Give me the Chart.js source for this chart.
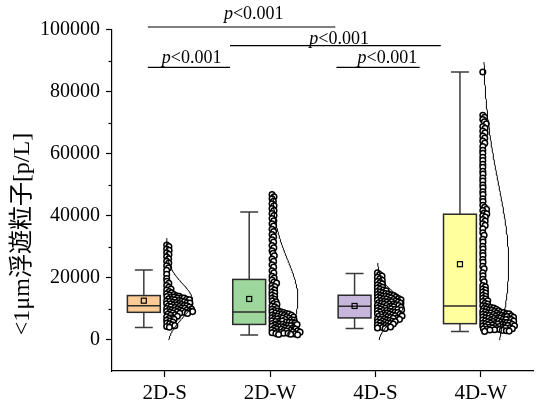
<!DOCTYPE html>
<html><head><meta charset="utf-8">
<script src="https://cdn.jsdelivr.net/npm/chart.js@4"></script>
<style>html,body{margin:0;padding:0;background:#fff}canvas{display:block}</style>
</head><body>
<canvas id="c" width="539" height="405" style="width:539px;height:405px"></canvas>
<script>
// ---------------- data ----------------
const categories = ['2D-S', '2D-W', '4D-S', '4D-W'];

const pts2DS = [30600, 30050, 29300, 28850, 28100, 27550, 26800, 26150, 25350, 24750, 23900, 23250, 22450, 21150, 19800, 18900, 18250, 17550, 16950, 16400, 16050, 15600, 15150, 14850, 14650, 14500, 14250, 14100, 13950, 13850, 13700, 13550, 13480, 13400, 13250, 13100, 13000, 12920, 12850, 12700, 12550, 12480, 12400, 12300, 12150, 12080, 12000, 11850, 11750, 11640, 11550, 11400, 11300, 11150, 11080, 11000, 10900, 10750, 10650, 10580, 10450, 10300, 10200, 10130, 10050, 9950, 9800, 9700, 9620, 9550, 9450, 9350, 9250, 9150, 9130, 9050, 8950, 8850, 8700, 8620, 8550, 8350, 8100, 7950, 7650, 7450, 7150, 6900, 6650, 6350, 6100, 5750, 5450, 5200, 4850, 4600, 4350, 4100];

const pts2DW = [46800, 46150, 45450, 44650, 43850, 43200, 42300, 41650, 40700, 40050, 39100, 38400, 37450, 36700, 35650, 34900, 33950, 33200, 32250, 31500, 30400, 29700, 28750, 27900, 27100, 26050, 25300, 24200, 23450, 22300, 21600, 20500, 19900, 19300, 18650, 18300, 17500, 17200, 16550, 16100, 15400, 15100, 14450, 14100, 13400, 13100, 12500, 12300, 11700, 11450, 10900, 10700, 10100, 9900, 9500, 9300, 9100, 8950, 8800, 8650, 8500, 8420, 8350, 8150, 8050, 7960, 7850, 7700, 7600, 7490, 7400, 7250, 7150, 7020, 6950, 6800, 6700, 6570, 6500, 6400, 6200, 6110, 6050, 5950, 5750, 5660, 5600, 5500, 5300, 5200, 5140, 5050, 4950, 4800, 4720, 4650, 4550, 4400, 4310, 4250, 4100, 3950, 3870, 3800, 3700, 3550, 3430, 3400, 3300, 3150, 3050, 2980, 2900, 2800, 2650, 2550, 2510, 2400, 2300, 2150, 2120, 2050, 1950, 1850, 1750, 1650];

const pts4DS = [21600, 21050, 20550, 20150, 19700, 19250, 18850, 18450, 18050, 17650, 17300, 16950, 16700, 16350, 16100, 15850, 15600, 15400, 15150, 14950, 14800, 14650, 14550, 14400, 14300, 14150, 14050, 13900, 13820, 13750, 13600, 13500, 13350, 13270, 13200, 13050, 12950, 12800, 12710, 12650, 12550, 12400, 12250, 12180, 12100, 12000, 11850, 11700, 11640, 11600, 11450, 11300, 11200, 11120, 11050, 10950, 10850, 10700, 10600, 10530, 10450, 10300, 10200, 10050, 9970, 9900, 9800, 9650, 9500, 9440, 9400, 9250, 9100, 8950, 8890, 8850, 8700, 8550, 8400, 8360, 8300, 8150, 8000, 7850, 7780, 7700, 7600, 7450, 7300, 7240, 7150, 7000, 6850, 6700, 6640, 6550, 6400, 6250, 6100, 6020, 5950, 5800, 5650, 5500, 5480, 5300, 5150, 5000, 4800, 4650, 4450, 4300, 4150, 4000, 3850, 3700];

const pts4DW = [86300, 72400, 71700, 71000, 70250, 69600, 68750, 68200, 67250, 66700, 65650, 65000, 64050, 63400, 62300, 61050, 60100, 58850, 57800, 56550, 55600, 54300, 53400, 52150, 51200, 49900, 49000, 47700, 46800, 45500, 44600, 43400, 42700, 42050, 41700, 40900, 40600, 40000, 39600, 38800, 38300, 37400, 36900, 35800, 34500, 33700, 32400, 31500, 30200, 29300, 28100, 27200, 25900, 25000, 23700, 22900, 21600, 20700, 19500, 18700, 17500, 17100, 16400, 16100, 15400, 15100, 14400, 14100, 13400, 13200, 12600, 12400, 11800, 11600, 11000, 10850, 10700, 10450, 10300, 10150, 9950, 9850, 9650, 9550, 9400, 9250, 9150, 8950, 8920, 8850, 8700, 8640, 8550, 8450, 8390, 8300, 8200, 8110, 8050, 7900, 7870, 7800, 7650, 7560, 7550, 7400, 7340, 7300, 7150, 7090, 7050, 6900, 6860, 6800, 6650, 6570, 6550, 6400, 6320, 6300, 6150, 6110, 6050, 5900, 5840, 5800, 5650, 5590, 5550, 5400, 5360, 5300, 5200, 5100, 5060, 4950, 4850, 4810, 4700, 4600, 4570, 4450, 4350, 4320, 4200, 4100, 4060, 3950, 3850, 3810, 3700, 3600, 3570, 3450, 3350, 3290, 3200, 3100, 2950, 2850, 2750];

const boxQ1       = [8900, 5000, 7100, 5250];
const boxMedian   = [11000, 9000, 10850, 10950];
const boxQ3       = [14300, 19500, 14400, 40500];
const whiskerLow  = [4000, 1600, 3650, 2700];
const whiskerHigh = [22500, 41200, 21400, 86300];
const meanValues  = [12650, 13200, 10950, 24400];
const curveSD     = [5600, 12600, 4600, 26000];
const curveLow    = [0, 1000, 0, 0];
const curveHigh   = [32800, 46700, 24800, 89500];
const yMin = -10000, yMax = 100000, yStep = 10000, yLabelStep = 20000;

const sigText = ['p', '<0.001'];
const sigBrackets = [
  {x0: 0.84, x1: 2.62, y: 100800, tx: 1.845, ty: 103400},
  {x0: 1.62, x1: 3.62, y: 94800,  tx: 2.655, ty: 95330},
  {x0: 0.84, x1: 1.62, y: 87800,  tx: 1.255, ty: 89050},
  {x0: 2.63, x1: 3.42, y: 87800,  tx: 3.113, ty: 89050}
];
const yTitle = '<1μm浮遊粒子[p/L]';

// ---------------- styles ----------------
const swarmValues = [pts2DS, pts2DW, pts4DS, pts4DW];
const boxColors = ['#FBCB96', '#9ED79C', '#C6B6DB', '#FFFF9E'];
const BOX_OFFSET = -0.198, BOX_HALF = 0.156, CAP_HALF = 0.085;
const CURVE_BASE = 0.019, CURVE_AMP = 0.245;
const SWARM_BASE_PX = 2, SWARM_GAP_PX = 2.8;
const SERIF = '"Liberation Serif", "Times New Roman", serif';

// ---------------- datasets ----------------
const datasets = [];
categories.forEach((c, i) => {
  const data = [];
  const N = 160;
  for (let k = 0; k <= N; k++) {
    const v = curveLow[i] + (curveHigh[i] - curveLow[i]) * k / N;
    const z = (v - meanValues[i]) / curveSD[i];
    data.push({x: i + 1 + CURVE_BASE + CURVE_AMP * Math.exp(-0.5 * z * z), y: v});
  }
  datasets.push({label: c + ' normal', data, showLine: true, borderColor: '#000', borderWidth: 1,
    pointRadius: 0, fill: false, tension: 0, order: 0});
});
swarmValues.forEach((vals, i) => {
  datasets.push({label: categories[i], data: vals.map(v => ({x: i + 1, y: v})), showLine: false,
    pointRadius: 2.8, pointBorderWidth: 1.5, pointBorderColor: '#000', pointBackgroundColor: '#fff',
    order: 1, swarmGroup: i});
});

// ---------------- plugins ----------------
const swarmPlugin = {
  id: 'swarm',
  afterRender(chart) {
    if (chart.$swarmDone) return;
    chart.$swarmDone = true;
    const xs = chart.scales.x, ys = chart.scales.y;
    const D2 = SWARM_GAP_PX * SWARM_GAP_PX;
    chart.data.datasets.forEach(ds => {
      if (ds.swarmGroup === undefined) return;
      const g = ds.swarmGroup;
      const cx = xs.getPixelForValue(g + 1) + SWARM_BASE_PX;
      const placed = [];
      const ordered = swarmValues[g].slice().sort((a, b) => b - a);
      ds.data = ordered.map(v => {
        const py = ys.getPixelForValue(v);
        const cands = [0];
        for (const p of placed) {
          const dy = p.y - py;
          if (dy * dy < D2) cands.push(p.x + Math.sqrt(D2 - dy * dy));
        }
        cands.sort((a, b) => a - b);
        let off = 0;
        for (const c of cands) {
          if (placed.every(p => (p.x - c) ** 2 + (p.y - py) ** 2 >= D2 - 1e-6)) { off = c; break; }
        }
        placed.push({x: off, y: py});
        return {x: xs.getValueForPixel(cx + off), y: v};
      });
    });
    chart.update('none');
  }
};

const boxPlugin = {
  id: 'boxes',
  beforeDatasetsDraw(chart) {
    const ctx = chart.ctx, xs = chart.scales.x, ys = chart.scales.y;
    categories.forEach((c, i) => {
      const xc = xs.getPixelForValue(i + 1 + BOX_OFFSET);
      const hw = xs.getPixelForValue(i + 1 + BOX_OFFSET + BOX_HALF) - xc;
      const cw = xs.getPixelForValue(i + 1 + BOX_OFFSET + CAP_HALF) - xc;
      const yQ1 = ys.getPixelForValue(boxQ1[i]), yQ3 = ys.getPixelForValue(boxQ3[i]);
      const yMed = ys.getPixelForValue(boxMedian[i]);
      const yLo = ys.getPixelForValue(whiskerLow[i]), yHi = ys.getPixelForValue(whiskerHigh[i]);
      const yMean = ys.getPixelForValue(meanValues[i]);
      ctx.save();
      ctx.strokeStyle = '#3c3c3c'; ctx.lineWidth = 1.5;
      ctx.beginPath();
      ctx.moveTo(xc, yQ3); ctx.lineTo(xc, yHi);
      ctx.moveTo(xc - cw, yHi); ctx.lineTo(xc + cw, yHi);
      ctx.moveTo(xc, yQ1); ctx.lineTo(xc, yLo);
      ctx.moveTo(xc - cw, yLo); ctx.lineTo(xc + cw, yLo);
      ctx.stroke();
      ctx.fillStyle = boxColors[i];
      ctx.fillRect(xc - hw, yQ3, 2 * hw, yQ1 - yQ3);
      ctx.strokeStyle = '#2a2a2a'; ctx.lineWidth = 1.5;
      ctx.strokeRect(xc - hw, yQ3, 2 * hw, yQ1 - yQ3);
      ctx.beginPath(); ctx.moveTo(xc - hw, yMed); ctx.lineTo(xc + hw, yMed); ctx.stroke();
      ctx.strokeStyle = '#000'; ctx.lineWidth = 1.2;
      ctx.strokeRect(xc - 2.5, yMean - 2.5, 5, 5);
      ctx.restore();
    });
  }
};

const annotPlugin = {
  id: 'annot',
  afterDraw(chart) {
    const ctx = chart.ctx, xs = chart.scales.x, ys = chart.scales.y;
    ctx.save();
    // minor ticks
    ctx.strokeStyle = '#000'; ctx.lineWidth = 1.2;
    const ax = chart.chartArea.left;
    for (let v = yMin + yStep; v < yMax; v += yStep) {
      if (v % yLabelStep === 0) continue;
      const py = Math.round(ys.getPixelForValue(v)) + 0.5;
      ctx.beginPath(); ctx.moveTo(ax - 3.5, py); ctx.lineTo(ax, py); ctx.stroke();
    }
    // significance brackets
    ctx.lineWidth = 1.2;
    sigBrackets.forEach(b => {
      const py = ys.getPixelForValue(b.y);
      ctx.beginPath(); ctx.moveTo(xs.getPixelForValue(b.x0), py); ctx.lineTo(xs.getPixelForValue(b.x1), py); ctx.stroke();
      const italic = 'italic 18px ' + SERIF, normal = '18px ' + SERIF;
      ctx.font = italic; const w1 = ctx.measureText(sigText[0]).width;
      ctx.font = normal; const w2 = ctx.measureText(sigText[1]).width;
      const x0 = xs.getPixelForValue(b.tx) - (w1 + w2) / 2;
      const ty = ys.getPixelForValue(b.ty);
      ctx.fillStyle = '#000'; ctx.textBaseline = 'alphabetic'; ctx.textAlign = 'left';
      ctx.font = italic; ctx.fillText(sigText[0], x0, ty);
      ctx.font = normal; ctx.fillText(sigText[1], x0 + w1, ty);
    });
    // y title
    ctx.translate(23, 234);
    ctx.rotate(-Math.PI / 2);
    ctx.font = '24px "Liberation Serif", "Noto Sans CJK JP", serif';
    ctx.textAlign = 'center'; ctx.textBaseline = 'middle'; ctx.fillStyle = '#000';
    ctx.fillText(yTitle, 0, 0);
    ctx.restore();
  }
};

new Chart(document.getElementById('c'), {
  type: 'scatter',
  data: {datasets},
  plugins: [swarmPlugin, boxPlugin, annotPlugin],
  options: {
    animation: false, responsive: false, devicePixelRatio: 1,
    layout: {padding: {top: 29.5, right: 3, left: 0, bottom: 0}},
    plugins: {legend: {display: false}, tooltip: {enabled: false}},
    scales: {
      x: {
        type: 'linear', min: 0.5, max: 4.5,
        afterBuildTicks: s => { s.ticks = categories.map((c, i) => ({value: i + 1})); },
        afterFit: s => { s.height = 34; },
        ticks: {callback: v => categories[Math.round(v) - 1], font: {family: SERIF, size: 21}, color: '#000',
          padding: 4, autoSkip: false, maxRotation: 0},
        grid: {drawOnChartArea: false, drawTicks: true, tickLength: 6, tickColor: '#000', tickWidth: 1.2},
        border: {display: true, color: '#000', width: 1.2}
      },
      y: {
        min: yMin, max: yMax,
        afterFit: s => { s.width = 112; },
        ticks: {stepSize: yStep, callback: v => (v % yLabelStep === 0 ? String(v) : ''),
          font: {family: SERIF, size: 20}, color: '#000', padding: 6},
        grid: {drawOnChartArea: false, drawTicks: true, tickLength: 6, tickWidth: 1.2,
          tickColor: c => (c.tick && c.tick.value % yLabelStep === 0) ? '#000' : 'rgba(0,0,0,0)'},
        border: {display: true, color: '#000', width: 1.2}
      }
    }
  }
});
</script>
</body></html>
